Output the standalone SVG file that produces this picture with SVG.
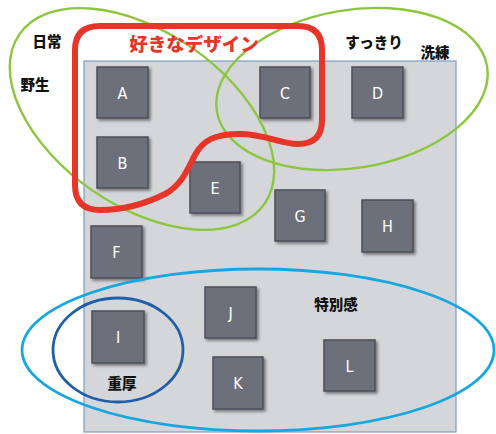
<svg xmlns="http://www.w3.org/2000/svg" width="496" height="434" viewBox="0 0 496 434">
<style>
.box{fill:#6c6f7a;stroke:#4c4f58;stroke-width:1.5;filter:url(#sh)}
.bl{fill:#ffffff;font-family:"DejaVu Sans Condensed","Liberation Sans",sans-serif;font-size:16px;text-anchor:middle;dominant-baseline:central}
.jp{fill:#111;font-family:"Noto Sans CJK JP",sans-serif;font-weight:900;font-size:14.5px;text-anchor:middle;dominant-baseline:central}
.green{fill:none;stroke:#8cc63f;stroke-width:2.4}
</style>
<defs>
<filter id="sh" x="-20%" y="-20%" width="150%" height="150%">
<feDropShadow dx="2" dy="2" stdDeviation="1.5" flood-color="#000" flood-opacity="0.45"/>
</filter>
</defs>
<rect width="496" height="434" fill="#ffffff"/>
<rect id="panel" x="84" y="61" width="372" height="371" fill="#d5d6da" stroke="#7f9cc0" stroke-width="1.2"/>
<g id="A"><rect class="box" x="97" y="67" width="51" height="51"/><text class="bl" x="122.5" y="93">A</text></g>
<g id="B"><rect class="box" x="97" y="137" width="51" height="51"/><text class="bl" x="122.5" y="163">B</text></g>
<g id="C"><rect class="box" x="260" y="67" width="50" height="51"/><text class="bl" x="285" y="93">C</text></g>
<g id="D"><rect class="box" x="352" y="67" width="51" height="51"/><text class="bl" x="377.5" y="93">D</text></g>
<g id="E"><rect class="box" x="190" y="162" width="50" height="51"/><text class="bl" x="215" y="188">E</text></g>
<g id="F"><rect class="box" x="91" y="226" width="51" height="52"/><text class="bl" x="116.5" y="252">F</text></g>
<g id="G"><rect class="box" x="275" y="190" width="50" height="51"/><text class="bl" x="300" y="216">G</text></g>
<g id="H"><rect class="box" x="362" y="200" width="51" height="52"/><text class="bl" x="387.5" y="226">H</text></g>
<g id="I"><rect class="box" x="92" y="311" width="52" height="52"/><text class="bl" x="118" y="337">I</text></g>
<g id="J"><rect class="box" x="205" y="287" width="51" height="51"/><text class="bl" x="230.5" y="313">J</text></g>
<g id="K"><rect class="box" x="213" y="357" width="50" height="52"/><text class="bl" x="238" y="383">K</text></g>
<g id="L"><rect class="box" x="324" y="340" width="51" height="51"/><text class="bl" x="349.5" y="366">L</text></g>
<g id="connectors">
<ellipse id="nichijo" class="green" cx="142" cy="119" rx="149" ry="87" transform="rotate(34.6 142 119)"/>
<ellipse id="sukkiri" class="green" cx="352" cy="89" rx="137" ry="79" transform="rotate(-9.5 352 89)"/>
<ellipse id="tokubetsu" cx="258" cy="350" rx="236" ry="81" fill="none" stroke="#17a6e0" stroke-width="2.8"/>
<ellipse id="jukou" cx="118" cy="350" rx="65" ry="52" fill="none" stroke="#1f5ea8" stroke-width="2.8"/>
<path id="suki" d="M100,26 H298 Q322,26 322,50 V120 Q322,144 298,144 C280,144 265,134 240,134 C215,134 203,140 195,155 C187,170 182,185 165,194 C145,204 125,210 100,210 Q75,210 75,185 V50 Q75,26 100,26 Z" fill="none" stroke="#e8352a" stroke-width="6" stroke-linejoin="round"/>
</g>
<g id="labels">
<text class="jp" x="47" y="40">日常</text>
<text class="jp" x="35" y="83">野生</text>
<text x="194" y="43" fill="#e8352a" font-family="Noto Sans CJK JP,sans-serif" font-weight="900" font-size="18.5" text-anchor="middle" dominant-baseline="central">好きなデザイン</text>
<text class="jp" x="374" y="41">すっきり</text>
<text class="jp" x="435" y="51">洗練</text>
<text class="jp" x="336" y="303">特別感</text>
<text class="jp" x="122" y="382">重厚</text>
</g>
</svg>
